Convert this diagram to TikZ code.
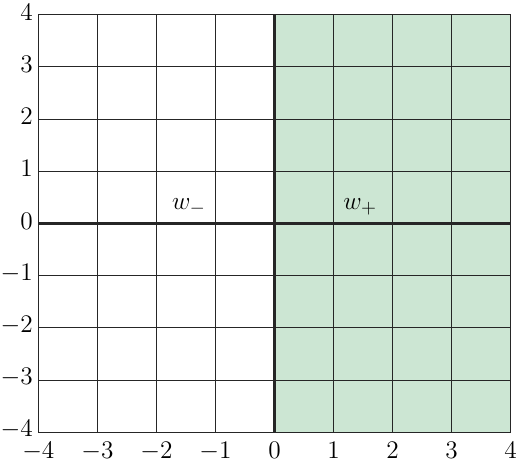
\documentclass[tikz,border=0pt]{standalone}
\usepackage{amsmath}
\usetikzlibrary{calc,positioning}

\definecolor{halfgreen}{RGB}{204,230,211}

\begin{document}
\begin{tikzpicture}[x=1.181cm, y=1.044cm, font=\fontsize{13.5}{15}\selectfont]
  \useasboundingbox (-4.649,-4.550) rectangle (4.124,4.282);

  % ---- Shaded right half plane ----------------------------------
  \fill[halfgreen] (0,-4) rectangle (4,4);

  % ---- Grid lines ------------------------------------------------
  \tikzstyle{gridline}=[black!85, line width=0.6pt]
  \tikzstyle{axisline}=[black!85, line width=1.3pt]
  \foreach \x in {-4,...,4}
    \draw[gridline] (\x,-4) -- (\x,4);
  \foreach \y in {-4,...,4}
    \draw[gridline] (-4,\y) -- (4,\y);

  % ---- Axes (thicker) --------------------------------------------
  \draw[axisline] (0,-4) -- (0,4);
  \draw[axisline] (-4,0) -- (4,0);

  % ---- Tick labels -----------------------------------------------
  \foreach \x in {-4,...,4}
    \node[below, inner sep=0.5pt, yshift=-5pt] (xl\x) at (\x,-4) {$\x$};
  \foreach \y in {-4,...,4}
    \node[left, inner xsep=3pt, inner ysep=0.5pt, yshift=1.5pt] (yl\y) at (-4,\y) {$\y$};

  % ---- Region labels ---------------------------------------------
  \node[font=\fontsize{15}{17}\selectfont] (wminus) at (-1.45,0.32) {$w_-$};
  \node[font=\fontsize{15}{17}\selectfont] (wplus)  at (1.45,0.32)  {$w_+$};

\end{tikzpicture}
\end{document}
